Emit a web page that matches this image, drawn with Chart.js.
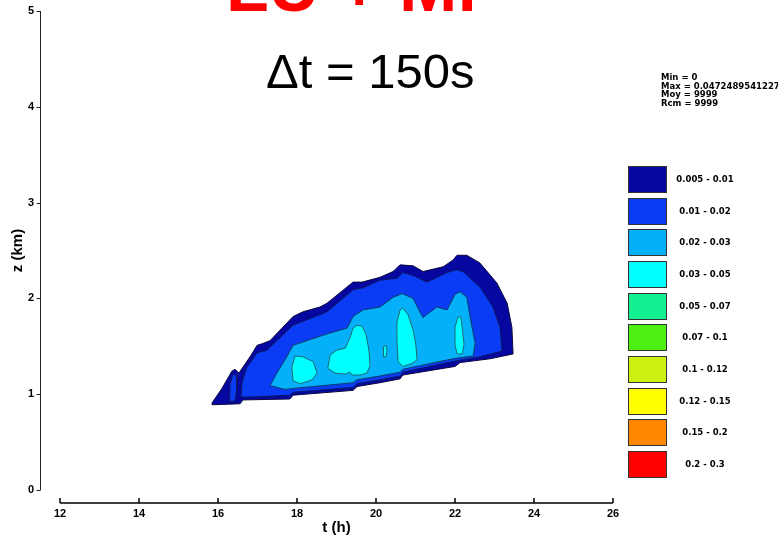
<!DOCTYPE html>
<html>
<head>
<meta charset="utf-8">
<script src="https://cdn.jsdelivr.net/npm/chart.js@4.4.1/dist/chart.umd.min.js"></script>
<style>
  html, body { margin: 0; padding: 0; background: #ffffff; }
  #wrap { width: 778px; height: 541px; position: relative; }
</style>
</head>
<body>
<div id="wrap"><canvas id="c" width="778" height="541"></canvas></div>
<script>
// Contour classes of the field (legend order)
const bandLabels = ['0.005 - 0.01', '0.01 - 0.02', '0.02 - 0.03', '0.03 - 0.05', '0.05 - 0.07',
                    '0.07 - 0.1', '0.1 - 0.12', '0.12 - 0.15', '0.15 - 0.2', '0.2 - 0.3'];
const bandColors = ['#0606a0', '#0a3cf5', '#05b0fa', '#00ffff', '#12f092',
                    '#4ef012', '#ccf012', '#ffff00', '#ff8800', '#ff0000'];

// Summary statistics printed beside the plot
const statLines = ['Min = 0', 'Max = 0.0472489541227', 'Moy = 9999', 'Rcm = 9999'];

// Axis ranges: t (h) and z (km)
const tRange = [12, 26];
const zRange = [0, 5];

// Contour polygons, vertices as [t (h), z (km)]
// class 0.005 - 0.01 (outer envelope)
const band1Outer = [
  [15.85, 0.91], [16.10, 1.06], [16.35, 1.24], [16.43, 1.26], [16.53, 1.22], [16.81, 1.39],
  [16.99, 1.51], [17.14, 1.53], [17.32, 1.56], [17.90, 1.81], [18.15, 1.86], [18.58, 1.91],
  [18.76, 1.95], [19.42, 2.17], [19.65, 2.17], [20.10, 2.22], [20.43, 2.28], [20.61, 2.35],
  [20.94, 2.34], [21.19, 2.28], [21.70, 2.33], [21.95, 2.40], [22.05, 2.45], [22.30, 2.45],
  [22.63, 2.37], [23.06, 2.16], [23.32, 1.95], [23.44, 1.70], [23.47, 1.42],
  [22.89, 1.37], [22.13, 1.33], [22.00, 1.29], [20.68, 1.20], [20.61, 1.16], [20.10, 1.12],
  [19.52, 1.08], [19.42, 1.04], [17.90, 0.99], [17.82, 0.95], [16.63, 0.94], [16.56, 0.90],
  [15.87, 0.89]
];
// class 0.01 - 0.02
const band2Main = [
  [16.58, 0.97], [16.61, 1.12], [16.73, 1.28], [16.99, 1.43], [17.24, 1.46], [17.90, 1.72],
  [18.58, 1.83], [18.76, 1.86], [19.42, 2.09], [19.67, 2.11], [20.10, 2.19], [20.53, 2.21],
  [20.68, 2.27], [20.94, 2.24], [21.29, 2.17], [21.80, 2.27], [22.05, 2.30], [22.20, 2.28],
  [22.63, 2.12], [22.96, 1.91], [23.14, 1.70], [23.19, 1.45],
  [22.63, 1.39], [22.05, 1.35], [20.68, 1.23], [20.61, 1.19], [20.10, 1.15], [19.52, 1.11],
  [19.42, 1.07], [17.90, 1.02], [17.82, 0.99], [16.81, 0.97]
];
const band2Finger = [
  [16.28, 0.92], [16.30, 1.09], [16.38, 1.21], [16.46, 1.20], [16.48, 1.06], [16.43, 0.93]
];
// class 0.02 - 0.03
const band3Main = [
  [17.32, 1.09], [17.49, 1.22], [17.70, 1.36], [17.90, 1.51], [18.33, 1.57], [18.84, 1.64],
  [19.27, 1.69], [19.42, 1.81], [19.67, 1.88], [20.10, 1.91], [20.43, 2.01], [20.66, 2.05],
  [20.94, 2.00], [21.06, 1.90], [21.19, 1.80], [21.54, 1.91], [21.80, 1.88], [22.00, 2.04],
  [22.13, 2.07], [22.30, 2.01], [22.38, 1.81], [22.51, 1.53], [22.46, 1.40],
  [21.95, 1.37], [20.68, 1.26], [20.61, 1.23], [20.10, 1.19], [19.52, 1.15], [19.42, 1.12],
  [17.90, 1.06], [17.70, 1.05]
];
// class 0.03 - 0.05 (cores)
const band4CoreA = [
  [17.95, 1.40], [18.15, 1.39], [18.41, 1.34], [18.51, 1.22], [18.38, 1.15], [18.08, 1.11],
  [17.90, 1.14], [17.87, 1.28]
];
const band4CoreB = [
  [18.84, 1.41], [19.01, 1.46], [19.22, 1.48], [19.34, 1.59], [19.42, 1.69], [19.52, 1.72],
  [19.65, 1.71], [19.75, 1.62], [19.82, 1.46], [19.85, 1.30], [19.77, 1.22], [19.59, 1.20],
  [19.39, 1.20], [19.34, 1.23], [19.22, 1.21], [18.96, 1.22], [18.78, 1.27]
];
const band4CoreC = [
  [20.20, 1.50], [20.25, 1.51], [20.28, 1.45], [20.25, 1.39], [20.20, 1.39], [20.18, 1.45]
];
const band4CoreD = [
  [20.61, 1.88], [20.68, 1.90], [20.81, 1.83], [20.94, 1.67], [21.01, 1.51], [21.04, 1.36],
  [20.91, 1.32], [20.68, 1.29], [20.56, 1.34], [20.53, 1.57], [20.53, 1.75]
];
const band4CoreE = [
  [22.08, 1.81], [22.15, 1.80], [22.18, 1.70], [22.23, 1.52], [22.18, 1.42], [22.05, 1.42],
  [22.00, 1.52], [22.00, 1.70]
];

// polygons with their class index, drawn from the outer envelope inwards
const shapes = [
  { pts: band1Outer, band: 0 },
  { pts: band2Main, band: 1 },
  { pts: band2Finger, band: 1 },
  { pts: band3Main, band: 2 },
  { pts: band4CoreA, band: 3 },
  { pts: band4CoreB, band: 3 },
  { pts: band4CoreC, band: 3 },
  { pts: band4CoreD, band: 3 },
  { pts: band4CoreE, band: 3 }
];

const edgeColors = ['#0a0a40', '#0a1a60', '#0d3d66', '#1f6a70'];

const datasets = shapes.map((s, i) => {
  const closed = s.pts.concat([s.pts[0]]).map(([t, z]) => ({ x: t, y: z }));
  return {
    data: closed,
    backgroundColor: bandColors[s.band],
    borderColor: edgeColors[s.band],
    borderWidth: 1,
    pointRadius: 0,
    pointHoverRadius: 0,
    tension: 0,
    fill: 'shape',
    order: shapes.length - i
  };
});

const tickFont = { family: "'Liberation Sans', Arial, sans-serif", size: 11, weight: 'bold' };
const titleFont = { family: "'Liberation Sans', Arial, sans-serif", size: 15, weight: 'bold' };

// detached axes, legend, statistics and headings
const decor = {
  id: 'decor',
  afterDraw(chart) {
    const { ctx, scales: { x, y } } = chart;
    ctx.save();

    // vertical axis, set off to the left of the plot
    const ax = 40.5;
    ctx.strokeStyle = '#222';
    ctx.lineWidth = 1;
    ctx.beginPath();
    ctx.moveTo(ax, y.getPixelForValue(zRange[0]));
    ctx.lineTo(ax, y.getPixelForValue(zRange[1]));
    y.ticks.forEach(tk => {
      const p = Math.round(y.getPixelForValue(tk.value)) + 0.5;
      ctx.moveTo(ax - 4, p);
      ctx.lineTo(ax, p);
    });
    ctx.stroke();

    // horizontal axis, set off below the plot
    const ay = 503;
    ctx.strokeStyle = '#000';
    ctx.lineWidth = 1.5;
    ctx.beginPath();
    ctx.moveTo(x.getPixelForValue(tRange[0]), ay);
    ctx.lineTo(x.getPixelForValue(tRange[1]), ay);
    x.ticks.forEach(tk => {
      const p = x.getPixelForValue(tk.value);
      ctx.moveTo(p, ay);
      ctx.lineTo(p, ay - 5);
    });
    ctx.stroke();

    // colour key
    bandLabels.forEach((lab, i) => {
      const top = Math.round(166 + i * 31.67);
      ctx.fillStyle = bandColors[i];
      ctx.fillRect(628, top, 38, 26);
      ctx.strokeStyle = '#333';
      ctx.lineWidth = 1;
      ctx.strokeRect(628.5, top + 0.5, 38, 26);
      ctx.fillStyle = '#000';
      ctx.font = "bold 8.5px 'DejaVu Sans', sans-serif";
      ctx.textAlign = 'center';
      ctx.textBaseline = 'middle';
      ctx.fillText(lab, 705, top + 13.5);
    });

    // statistics block
    ctx.font = "bold 8.5px 'DejaVu Sans', sans-serif";
    ctx.textAlign = 'left';
    ctx.textBaseline = 'alphabetic';
    ctx.fillStyle = '#000';
    statLines.forEach((s, i) => ctx.fillText(s, 661, 80 + i * 8.5));

    // headings
    ctx.fillStyle = '#ff0000';
    ctx.font = "bold 70px 'Liberation Sans', sans-serif";
    ctx.fillText('LU + Mi', 226, 11);
    ctx.fillStyle = '#000';
    ctx.font = "49px 'Liberation Sans', sans-serif";
    ctx.fillText('\u0394t = 150s', 266, 88);

    ctx.restore();
  }
};

new Chart(document.getElementById('c'), {
  type: 'line',
  data: { datasets },
  options: {
    responsive: false,
    animation: false,
    events: [],
    layout: { padding: { left: 0, right: 165, top: 11, bottom: 0 } },
    plugins: { legend: { display: false }, tooltip: { enabled: false }, title: { display: false } },
    scales: {
      x: {
        type: 'linear',
        min: tRange[0],
        max: tRange[1],
        grid: { display: false, drawTicks: false },
        border: { display: false },
        ticks: { stepSize: 2, font: tickFont, color: '#000', padding: 17, maxRotation: 0 },
        title: { display: true, text: 't (h)', font: titleFont, color: '#000', padding: { top: 0, bottom: 4 } },
        afterFit(scale) { scale.height = 51; scale.paddingLeft = 6; scale.paddingRight = 6; }
      },
      y: {
        type: 'linear',
        min: zRange[0],
        max: zRange[1],
        grid: { display: false, drawTicks: false },
        border: { display: false },
        ticks: { stepSize: 1, font: tickFont, color: '#000', padding: 26 },
        title: { display: true, text: 'z (km)', font: titleFont, color: '#000', padding: { top: 9, bottom: 0 } },
        afterFit(scale) { scale.width = 60; scale.paddingTop = 6; scale.paddingBottom = 6; }
      }
    }
  },
  plugins: [decor]
});
</script>
</body>
</html>
